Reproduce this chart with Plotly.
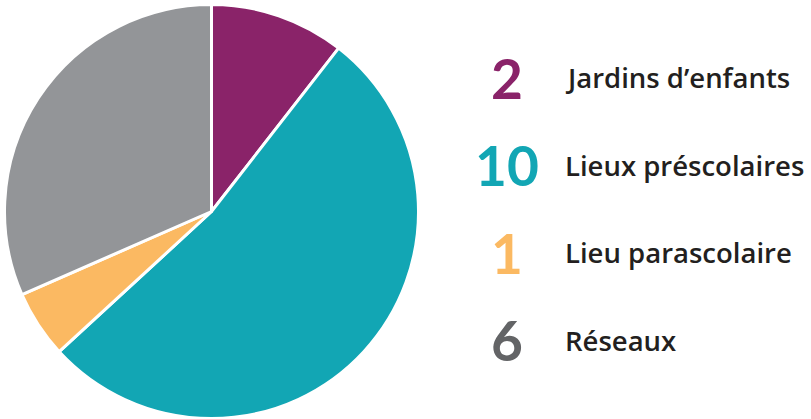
import plotly.graph_objects as go

labels = ["Jardins d\u2019enfants", "Lieux préscolaires", "Lieu parascolaire", "Réseaux"]
values = [2, 10, 1, 6]
slice_colors = ["#8a2369", "#12a6b4", "#fbb962", "#939598"]
number_colors = ["#8a2369", "#12a6b4", "#fbb962", "#636466"]

W, H = 811, 419

fig = go.Figure()
fig.add_trace(go.Pie(
    labels=labels, values=values, sort=False, direction="clockwise", rotation=0,
    marker=dict(colors=slice_colors, line=dict(color="white", width=3)),
    textinfo="none", hoverinfo="label+value", showlegend=False,
    domain=dict(x=[4.5 / W, 418.5 / W], y=[1 - 418.5 / H, 1 - 4.5 / H]),
))

row_y = [77.5, 165, 252.5, 340]
for v, lab, c, y in zip(values, labels, number_colors, row_y):
    fig.add_annotation(x=507 / W, y=1 - y / H, xref="paper", yref="paper",
                       text=f"<b>{v}</b>", showarrow=False, xanchor="center", yanchor="middle",
                       font=dict(family="Lato", size=55, color=c))
    fig.add_annotation(x=563 / W, y=1 - y / H, xref="paper", yref="paper",
                       text=lab, showarrow=False, xanchor="left", yanchor="middle",
                       font=dict(family="Open Sans", size=27.5, weight=600, color="#231f20"))

fig.update_layout(width=W, height=H, margin=dict(l=0, r=0, t=0, b=0),
                  paper_bgcolor="white", plot_bgcolor="white")
fig.write_html("out.html")
